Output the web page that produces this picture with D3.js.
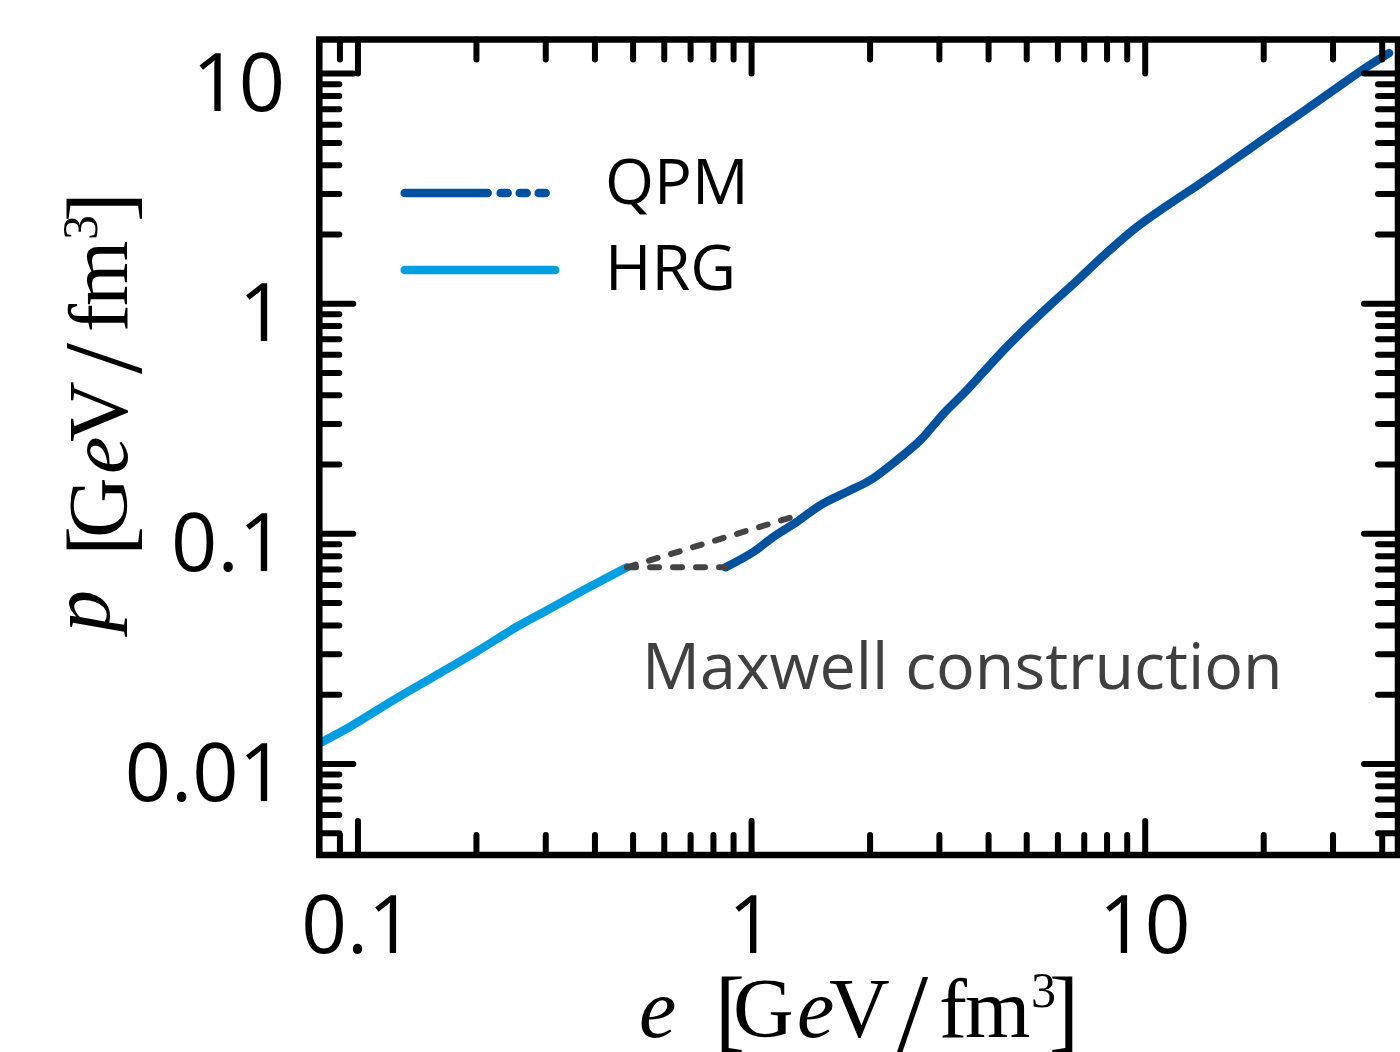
<!DOCTYPE html>
<html>
<head>
<meta charset="utf-8">
<script src="https://cdn.jsdelivr.net/npm/d3@7"></script>
<style>
  body { margin: 0; background: #fff; }
  svg { display: block; }
</style>
</head>
<body>
<svg id="chart"></svg>
<script>
// HRG branch, e and p in GeV/fm^3
const hrgE = [0.080, 0.0958, 0.1234, 0.156, 0.2003, 0.2542, 0.315, 0.383, 0.484];
const hrgP = [0.01222, 0.01443, 0.01885, 0.02379, 0.03056, 0.03925, 0.04797, 0.05766, 0.0712];

// QPM branch
const qpmE = [0.862, 1.015, 1.141, 1.309, 1.501, 1.754, 2.011, 2.350, 2.694, 3.088, 3.471, 3.902, 4.386,
  5.030, 5.877, 6.742, 7.725, 9.386, 11.41, 13.87, 16.86, 20.49, 24.91, 30.27, 36.80, 41.76];
const qpmP = [0.0712, 0.0832, 0.0967, 0.1123, 0.1327, 0.1517, 0.1705, 0.2084, 0.2545, 0.3324, 0.4061, 0.5046, 0.6266,
  0.791, 1.016, 1.258, 1.566, 2.094, 2.660, 3.325, 4.198, 5.311, 6.699, 8.461, 10.68, 12.22];

// Maxwell construction (flat line + line up to the QPM branch)
const flatE = [0.484, 0.862];
const flatP = [0.0712, 0.0712];
const slopeE = [0.484, 1.32];
const slopeP = [0.0712, 0.120];

// ticks
const xMajor = [0.1, 1, 10];
const xLabels = ["0.1", "1", "10"];
const xMinor = [0.09, 0.2, 0.3, 0.4, 0.5, 0.6, 0.7, 0.8, 0.9, 2, 3, 4, 5, 6, 7, 8, 9, 20, 30, 40];
const yMajor = [0.01, 0.1, 1, 10];
const yLabels = ["0.01", "0.1", "1", "10"];
const yMinor = [0.005, 0.006, 0.007, 0.008, 0.009, 0.02, 0.03, 0.04, 0.05, 0.06, 0.07, 0.08, 0.09,
  0.2, 0.3, 0.4, 0.5, 0.6, 0.7, 0.8, 0.9, 2, 3, 4, 5, 6, 7, 8, 9];

const width = 1400;
const height = 1052;
const frame = { left: 319.3, right: 1398, top: 39.5, bottom: 855 };

const svg = d3.select("#chart").attr("width", width).attr("height", height);

const x = d3.scaleLog().domain([0.08, 44]).range([frame.left, frame.right]);
const y = d3.scaleLog().domain([0.004, 14]).range([frame.bottom, frame.top]);

svg.append("clipPath").attr("id", "plot")
  .append("rect")
  .attr("x", frame.left).attr("y", frame.top)
  .attr("width", frame.right - frame.left).attr("height", frame.bottom - frame.top);

const line = d3.line()
  .x((d) => x(d[0]))
  .y((d) => y(d[1]))
  .curve(d3.curveCatmullRom.alpha(0.5));

const plot = svg.append("g").attr("clip-path", "url(#plot)");

plot.append("path")
  .attr("d", line(d3.zip(hrgE, hrgP)))
  .attr("fill", "none")
  .attr("stroke", "#009ee0")
  .attr("stroke-width", 8.5)
  .attr("stroke-linecap", "round");

plot.append("path")
  .attr("d", line(d3.zip(qpmE, qpmP)))
  .attr("fill", "none")
  .attr("stroke", "#00529f")
  .attr("stroke-width", 8.5)
  .attr("stroke-linecap", "round");

[[flatE, flatP], [slopeE, slopeP]].forEach(([e, p]) => {
  plot.append("path")
    .attr("d", d3.line().x((d) => x(d[0])).y((d) => y(d[1]))(d3.zip(e, p)))
    .attr("fill", "none")
    .attr("stroke", "#444444")
    .attr("stroke-width", 6)
    .attr("stroke-dasharray", "9,14")
    .attr("stroke-linecap", "round");
});

// ticks on all four sides, pointing inwards
function ticks(axis, values, size, transform) {
  const g = svg.append("g")
    .attr("transform", transform)
    .call(axis.tickValues(values).tickSize(-size).tickFormat(""));
  g.select(".domain").remove();
  g.selectAll(".tick line")
    .attr("stroke", "#000")
    .attr("stroke-width", 6)
    .attr("stroke-linecap", "round");
  return g;
}

ticks(d3.axisBottom(x), xMinor, 20, `translate(0,${frame.bottom})`);
ticks(d3.axisBottom(x), xMajor, 34, `translate(0,${frame.bottom})`);
ticks(d3.axisTop(x), xMinor, 20, `translate(0,${frame.top})`);
ticks(d3.axisTop(x), xMajor, 34, `translate(0,${frame.top})`);
ticks(d3.axisLeft(y), yMinor, 20, `translate(${frame.left},0)`);
ticks(d3.axisLeft(y), yMajor, 34, `translate(${frame.left},0)`);
ticks(d3.axisRight(y), yMinor, 20, `translate(${frame.right},0)`);
ticks(d3.axisRight(y), yMajor, 34, `translate(${frame.right},0)`);

svg.append("rect")
  .attr("x", frame.left).attr("y", frame.top)
  .attr("width", frame.right - frame.left).attr("height", frame.bottom - frame.top)
  .attr("fill", "none")
  .attr("stroke", "#000")
  .attr("stroke-width", 6.5);

// tick labels
svg.selectAll("text.xlab")
  .data(xMajor)
  .enter()
  .append("text")
  .attr("class", "xlab")
  .attr("x", (d) => x(d))
  .attr("y", 953)
  .attr("text-anchor", "middle")
  .style("font-family", "'Open Sans', sans-serif")
  .style("font-size", "80px")
  .text((d, i) => xLabels[i]);

svg.selectAll("text.ylab")
  .data(yMajor)
  .enter()
  .append("text")
  .attr("class", "ylab")
  .attr("x", 285)
  .attr("y", (d) => y(d) + 38)
  .attr("text-anchor", "end")
  .style("font-family", "'Open Sans', sans-serif")
  .style("font-size", "81px")
  .text((d, i) => yLabels[i]);

// axis titles, LaTeX-like: v [GeV/fm^3]
function title(g, v, vShift) {
  const t = g.append("text")
    .style("font-family", "'Liberation Serif', 'DejaVu Serif', serif")
    .style("font-size", "84px")
    .attr("fill", "#000");
  const parts = [
    { s: 0, txt: v, it: true, y: vShift },
    { s: 76, txt: "[", fs: 90, y: 3 },
    { s: 94, txt: "G" },
    { s: 158, txt: "e", it: true },
    { s: 190, txt: "V" },
    { s: 258, txt: "/", fs: 112, y: 14 },
    { s: 300, txt: "f" },
    { s: 326, txt: "m" },
    { s: 392, txt: "3", fs: 50, y: -30 },
    { s: 410, txt: "]", fs: 90, y: 3 },
  ];
  parts.forEach((p) => {
    t.append("tspan")
      .attr("x", p.s)
      .attr("y", p.y || 0)
      .style("font-style", p.it ? "italic" : "normal")
      .style("font-size", p.fs ? p.fs + "px" : null)
      .text(p.txt);
  });
}

title(svg.append("g").attr("transform", "translate(639,1037)"), "e", 0);
title(svg.append("g").attr("transform", "translate(127,632) rotate(-90)"), "p", -18);

// legend
const legend = svg.append("g");
legend.append("line")
  .attr("x1", 404.7).attr("x2", 487.7).attr("y1", 193).attr("y2", 193)
  .attr("stroke", "#00529f").attr("stroke-width", 8.5).attr("stroke-linecap", "round");
legend.append("line")
  .attr("x1", 500.7).attr("x2", 546).attr("y1", 193).attr("y2", 193)
  .attr("stroke", "#00529f").attr("stroke-width", 8.5).attr("stroke-linecap", "round")
  .attr("stroke-dasharray", "7,12");
legend.append("line")
  .attr("x1", 404.7).attr("x2", 555.3).attr("y1", 270).attr("y2", 270)
  .attr("stroke", "#009ee0").attr("stroke-width", 8.5).attr("stroke-linecap", "round");

legend.selectAll("text")
  .data([["QPM", 204], ["HRG", 290]])
  .enter()
  .append("text")
  .attr("x", 605)
  .attr("y", (d) => d[1])
  .style("font-family", "'Open Sans', sans-serif")
  .style("font-size", "63px")
  .text((d) => d[0]);

svg.append("text")
  .attr("x", 642)
  .attr("y", 689)
  .attr("fill", "#404040")
  .style("font-family", "'Open Sans', sans-serif")
  .style("font-size", "64.5px")
  .text("Maxwell construction");
</script>
</body>
</html>
